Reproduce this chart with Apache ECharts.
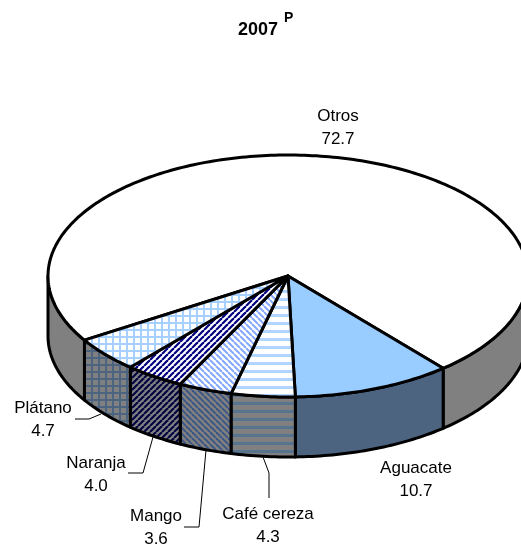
<!DOCTYPE html>
<html>
<head>
<meta charset="utf-8">
<style>html,body{margin:0;padding:0;background:#fff}#c{width:521px;height:546px}</style>
<script src="https://cdn.jsdelivr.net/npm/echarts@6/dist/echarts.min.js"></script>
</head>
<body>
<div id="c"></div>
<script>
const categories = ['Otros', 'Aguacate', 'Café cereza', 'Mango', 'Naranja', 'Plátano'];
const shares = [72.7, 10.7, 4.3, 3.6, 4.0, 4.7];

// layout (pixels / degrees)
const CX = 288, CY = 276, RX = 240, RY = 121, DEPTH = 60, START_DEG = 148.0;
const labelPos = [[338, 128], [416, 480], [268, 526], [156, 528], [96, 475], [43, 420]];
const leaders = [null, null,
  [[263, 457], [269, 473], [269, 498]],
  [[206, 450], [199, 527], [184, 527]],
  [[153, 437], [143, 473], [128, 473]],
  [[101, 414], [89, 419], [75, 419]]];

function tile(w, h, bg, fg, draw) {
  const c = document.createElement('canvas');
  c.width = w; c.height = h;
  const g = c.getContext('2d');
  g.fillStyle = bg; g.fillRect(0, 0, w, h);
  g.fillStyle = fg; g.strokeStyle = fg;
  draw(g, w, h);
  return { image: c, repeat: 'repeat' };
}
const grid = (bg, fg) => tile(7, 7, bg, fg, (g) => { g.fillRect(0, 0, 7, 2); g.fillRect(0, 0, 2, 7); });
const hbar = (bg, fg) => tile(8, 8, bg, fg, (g) => { g.fillRect(0, 2, 8, 3); });
const diag = (bg, fg, up, lw) => tile(6, 6, bg, fg, (g) => {
  g.lineWidth = lw;
  for (let i = -6; i <= 12; i += 6) {
    g.beginPath();
    if (up) { g.moveTo(i, 6); g.lineTo(i + 6, 0); } else { g.moveTo(i, 0); g.lineTo(i + 6, 6); }
    g.stroke();
  }
});
const GRAY = '#808080';
const topFill = ['#ffffff', '#99ccff', hbar('#ffffff', '#b0d6ff'), diag('#ffffff', '#85a8ff', false, 2),
  diag('#ffffff', '#000080', true, 2.2), grid('#ffffff', '#a5d0ff')];
const sideFill = [GRAY, '#4d6480', hbar(GRAY, '#567390'), diag(GRAY, '#3a5585', false, 1.9),
  diag(GRAY, '#000040', true, 2.1), grid(GRAY, '#4d6480')];

const total = shares.reduce((a, b) => a + b, 0);
const toRad = (d) => d * Math.PI / 180;
function pt(deg, dy) {
  return [CX + RX * Math.cos(toRad(deg)), CY + RY * Math.sin(toRad(deg)) + (dy || 0)];
}
function arc(a, b, dy) {
  const n = Math.max(2, Math.ceil((b - a) / 1)), p = [];
  for (let i = 0; i <= n; i++) p.push(pt(a + (b - a) * i / n, dy));
  return p;
}
const common = { stroke: '#000', lineWidth: 3, lineJoin: 'round' };

let acc = 0;
const sliceData = shares.map((v, i) => {
  const a = START_DEG + acc / total * 360;
  acc += v;
  return [a, START_DEG + acc / total * 360, v, i];
});

function renderSlice(params, api) {
  const a = api.value(0), b = api.value(1), v = api.value(2), i = api.value(3);
  const kids = [];
  [[0, 180], [360, 540]].forEach(([lo, hi]) => {
    const s = Math.max(a, lo), e = Math.min(b, hi);
    if (e > s) {
      const pts = arc(s, e, 0).concat(arc(s, e, DEPTH).reverse());
      kids.push({ type: 'polygon', z2: 1, shape: { points: pts }, style: Object.assign({ fill: sideFill[i] }, common) });
    }
  });
  kids.push({ type: 'polygon', z2: 2, shape: { points: [[CX, CY]].concat(arc(a, b, 0)) },
    style: Object.assign({ fill: topFill[i] }, common) });
  if (leaders[i]) {
    kids.push({ type: 'polyline', z2: 3, shape: { points: leaders[i] },
      style: { stroke: '#000', lineWidth: 1, fill: null } });
  }
  kids.push({ type: 'text', z2: 4, x: labelPos[i][0], y: labelPos[i][1], style: {
    text: categories[i] + '\n' + v.toFixed(1), align: 'center', verticalAlign: 'middle',
    font: '17px "Liberation Sans", Arial, sans-serif', lineHeight: 23, fill: '#000'
  } });
  return { type: 'group', children: kids };
}

const chart = echarts.init(document.getElementById('c'), null, { renderer: 'canvas' });
chart.setOption({
  animation: false,
  backgroundColor: '#fff',
  title: [
    { text: '2007', left: 233, top: 16, textStyle: { fontFamily: 'Liberation Sans', fontWeight: 'bold', fontSize: 18, color: '#000' } },
    { text: 'P', left: 279, top: 6, textStyle: { fontFamily: 'Liberation Sans', fontWeight: 'bold', fontSize: 14, color: '#000' } }
  ],
  series: [{
    type: 'custom',
    coordinateSystem: 'none',
    clip: false,
    renderItem: renderSlice,
    data: sliceData
  }]
});
</script>
</body>
</html>
